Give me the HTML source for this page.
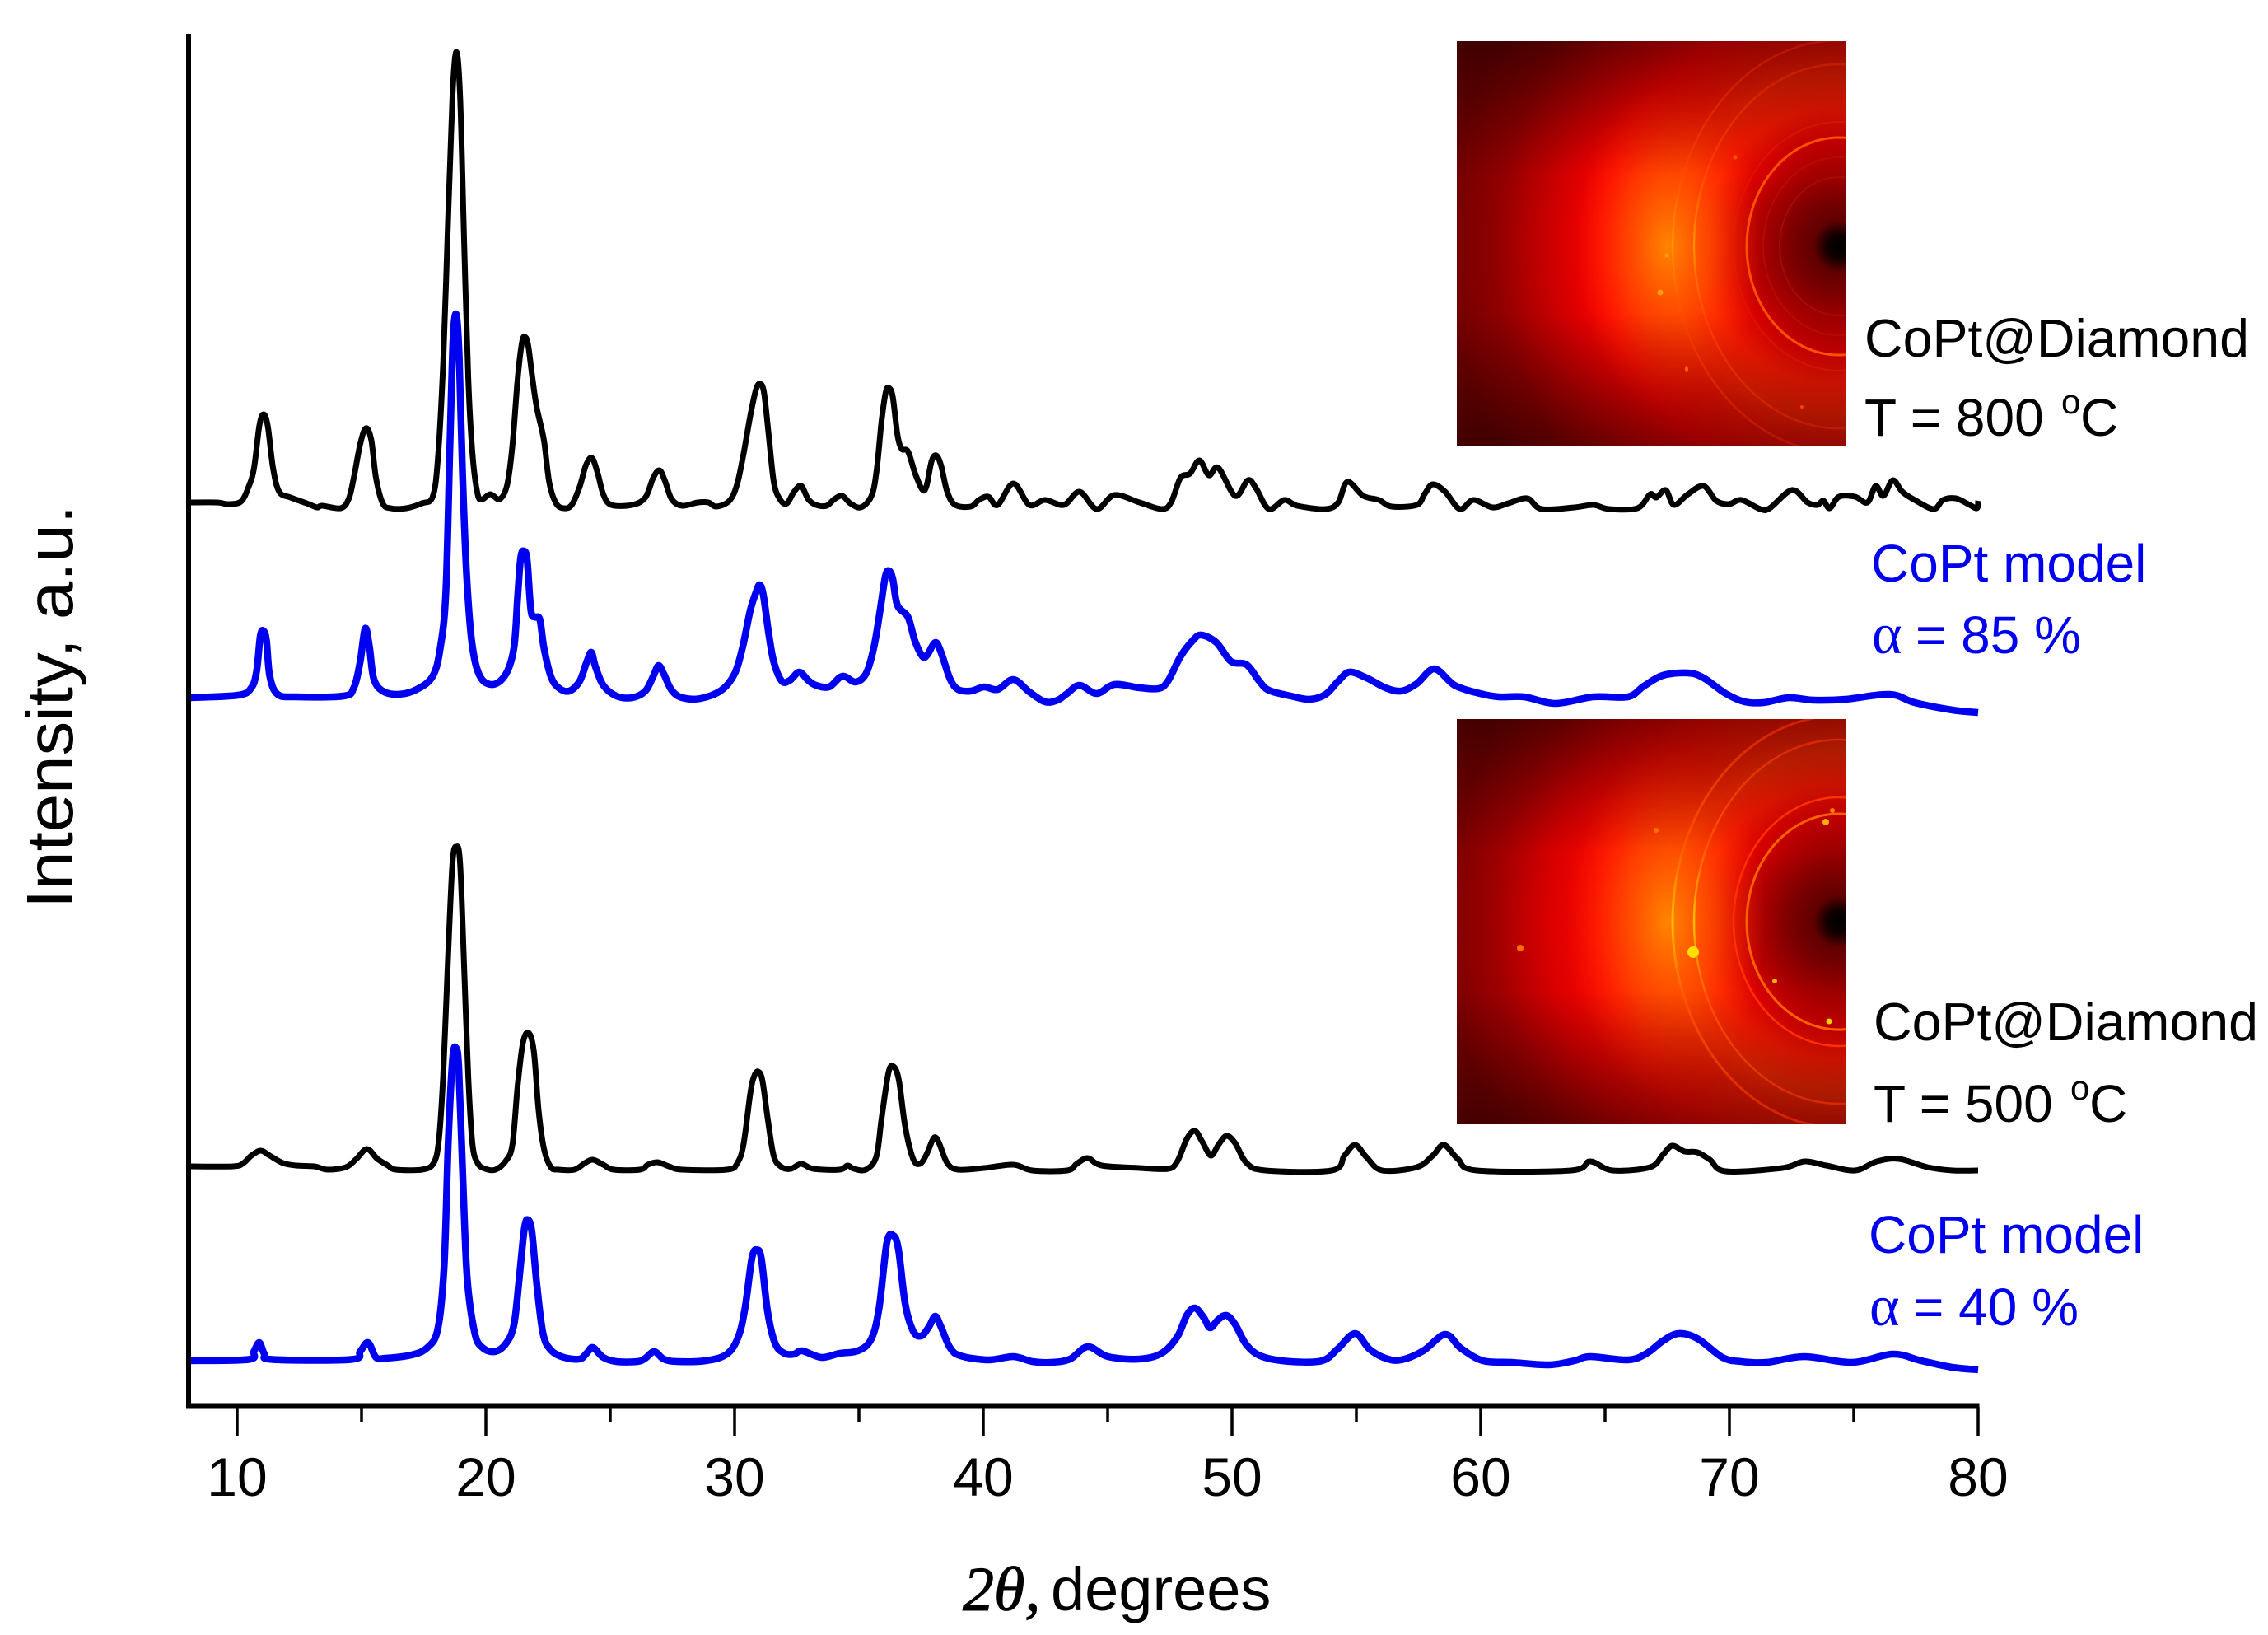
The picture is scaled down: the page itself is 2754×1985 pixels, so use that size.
<!DOCTYPE html>
<html lang="en">
<head>
<meta charset="utf-8">
<title>CoPt diffraction patterns</title>
<style>
html,body{margin:0;padding:0;background:#fff;}
svg{display:block;}
text{font-family:"Liberation Sans",sans-serif;}
.ser{font-family:"Liberation Serif",serif;}
</style>
</head>
<body>
<svg id="chart" xmlns="http://www.w3.org/2000/svg" width="2754" height="1985" viewBox="0 0 2754 1985">
<defs>
<radialGradient id="g1" gradientUnits="userSpaceOnUse" cx="2233" cy="299" r="480">
<stop offset="0" stop-color="#000"/><stop offset=".03" stop-color="#100000"/><stop offset=".065" stop-color="#600000"/><stop offset=".13" stop-color="#800000"/><stop offset=".21" stop-color="#b00000"/><stop offset=".27" stop-color="#d80000"/><stop offset=".35" stop-color="#ff1800"/><stop offset=".43" stop-color="#ff2000"/><stop offset=".5" stop-color="#ff1000"/><stop offset=".6" stop-color="#ff0000"/><stop offset=".74" stop-color="#c80000"/><stop offset=".87" stop-color="#900000"/><stop offset="1" stop-color="#700000"/>
</radialGradient>
<radialGradient id="g2" gradientUnits="userSpaceOnUse" cx="2233" cy="1119" r="480">
<stop offset="0" stop-color="#000"/><stop offset=".03" stop-color="#100000"/><stop offset=".065" stop-color="#600000"/><stop offset=".13" stop-color="#800000"/><stop offset=".21" stop-color="#b00000"/><stop offset=".27" stop-color="#d80000"/><stop offset=".35" stop-color="#ff1800"/><stop offset=".43" stop-color="#ff2800"/><stop offset=".5" stop-color="#ff1800"/><stop offset=".6" stop-color="#ff0800"/><stop offset=".74" stop-color="#d80000"/><stop offset=".87" stop-color="#a00000"/><stop offset="1" stop-color="#780000"/>
</radialGradient>
<radialGradient id="glow">
<stop offset="0" stop-color="#ff8a00" stop-opacity=".95"/><stop offset=".5" stop-color="#ff6000" stop-opacity=".55"/><stop offset="1" stop-color="#ff3000" stop-opacity="0"/>
</radialGradient>
<linearGradient id="shade" x1="0" y1="0" x2="0" y2="1">
<stop offset="0" stop-color="#000" stop-opacity=".42"/><stop offset=".33" stop-color="#000" stop-opacity="0"/><stop offset=".67" stop-color="#000" stop-opacity="0"/><stop offset="1" stop-color="#000" stop-opacity=".42"/>
</linearGradient>
<linearGradient id="ringA" gradientUnits="userSpaceOnUse" x1="0" y1="50" x2="0" y2="542">
<stop offset="0" stop-color="#c01800"/><stop offset=".3" stop-color="#ff4000"/><stop offset=".5" stop-color="#ffa000"/><stop offset=".7" stop-color="#ff4000"/><stop offset="1" stop-color="#c01800"/>
</linearGradient>
<linearGradient id="ringB" gradientUnits="userSpaceOnUse" x1="0" y1="873" x2="0" y2="1365">
<stop offset="0" stop-color="#d02000"/><stop offset=".3" stop-color="#ff5000"/><stop offset=".5" stop-color="#ffc000"/><stop offset=".7" stop-color="#ff5000"/><stop offset="1" stop-color="#d02000"/>
</linearGradient>
<clipPath id="c1"><rect x="1769" y="50" width="473" height="492"/></clipPath>
<clipPath id="c2"><rect x="1769" y="873" width="473" height="492"/></clipPath>
</defs>

<rect x="0" y="0" width="2754" height="1985" fill="#fff"/>

<g id="inset-800" clip-path="url(#c1)">
<rect x="1769" y="50" width="473" height="492" fill="url(#g1)"/>
<ellipse cx="2025" cy="299" rx="115" ry="200" fill="url(#glow)"/>
<rect x="1769" y="50" width="473" height="492" fill="url(#shade)"/>
<g fill="none">
<ellipse cx="2233" cy="299" rx="112" ry="132" stroke="#ff5000" stroke-width="3"/>
<ellipse cx="2233" cy="299" rx="72" ry="84" stroke="#b01000" stroke-width="2" opacity=".7"/>
<ellipse cx="2233" cy="299" rx="92" ry="108" stroke="#b81000" stroke-width="2" opacity=".7"/>
<ellipse cx="2233" cy="299" rx="128" ry="151" stroke="#e02000" stroke-width="2" opacity=".5"/>
<ellipse cx="2233" cy="299" rx="176" ry="221" stroke="url(#ringA)" stroke-width="2.5" opacity=".75"/>
<ellipse cx="2233" cy="299" rx="202" ry="250" stroke="url(#ringA)" stroke-width="2.5" opacity=".7"/>
</g>
<g fill="#ffa000">
<circle cx="2024" cy="310" r="2.5"/><circle cx="2016" cy="355" r="3.5"/><ellipse cx="2048" cy="448" rx="2" ry="4" fill="#ff6000"/><circle cx="2107" cy="191" r="2.5" fill="#ff5000"/><circle cx="2188" cy="494" r="2" fill="#ff4000"/>
</g>
</g>

<g id="inset-500" clip-path="url(#c2)">
<rect x="1769" y="873" width="473" height="492" fill="url(#g2)"/>
<ellipse cx="2025" cy="1119" rx="120" ry="215" fill="url(#glow)"/>
<rect x="1769" y="873" width="473" height="492" fill="url(#shade)"/>
<g fill="none">
<ellipse cx="2233" cy="1119" rx="112" ry="131" stroke="#ff6000" stroke-width="3"/>
<ellipse cx="2233" cy="1119" rx="128" ry="151" stroke="#ff3000" stroke-width="2.5"/>
<ellipse cx="2233" cy="1119" rx="176" ry="221" stroke="url(#ringB)" stroke-width="2.5"/>
<ellipse cx="2233" cy="1119" rx="202" ry="250" stroke="url(#ringB)" stroke-width="3"/>
</g>
<g>
<circle cx="2056" cy="1156" r="7" fill="#ffe000"/><circle cx="1846" cy="1151" r="4" fill="#ff7000"/><circle cx="2011" cy="1008" r="3" fill="#ff7000"/><circle cx="2217" cy="998" r="4" fill="#ffb000"/><circle cx="2225" cy="984" r="3" fill="#ff8000"/><circle cx="2155" cy="1191" r="3" fill="#ffb000"/><circle cx="2221" cy="1240" r="3.5" fill="#ffd000"/>
</g>
</g>

<g id="series"></g>

<rect x="226" y="41" width="6" height="1669" fill="#000"/>
<rect x="226" y="1703.5" width="2177.5" height="7" fill="#000"/>
<g id="ticks"></g>
<g id="tick-labels" font-size="66" text-anchor="middle" fill="#000"></g>

<text class="ser" x="1169" y="1955" font-size="76" font-style="italic" fill="#000" stroke="#000" stroke-width="1">2θ,</text>
<text x="1276" y="1955" font-size="74" fill="#000">degrees</text>
<text x="0" y="0" font-size="80" textLength="490" lengthAdjust="spacingAndGlyphs" fill="#000" transform="translate(88,1103) rotate(-90)">Intensity, a.u.</text>

<text x="2264" y="433" font-size="64.5" fill="#000">CoPt@Diamond</text>
<text x="2264" y="529" font-size="64" fill="#000">T = 800</text>
<text x="2503" y="502" font-size="42" fill="#000">o</text>
<text x="2526" y="529" font-size="64" fill="#000">C</text>
<text x="2272" y="706" font-size="64" fill="#0000f0">CoPt model</text>
<text class="ser" x="2273" y="793" font-size="70" fill="#0000f0">α</text>
<text x="2326" y="793" font-size="64" fill="#0000f0">= 85 %</text>

<text x="2275" y="1263" font-size="64.5" fill="#000">CoPt@Diamond</text>
<text x="2275" y="1362" font-size="64" fill="#000">T = 500</text>
<text x="2514" y="1335" font-size="42" fill="#000">o</text>
<text x="2537" y="1362" font-size="64" fill="#000">C</text>
<text x="2269" y="1521" font-size="64" fill="#0000f0">CoPt model</text>
<text class="ser" x="2270" y="1609" font-size="70" fill="#0000f0">α</text>
<text x="2323" y="1609" font-size="64" fill="#0000f0">= 40 %</text>
</svg>

<script>
// Axis ticks
const majorTicks = [10, 20, 30, 40, 50, 60, 70, 80];
const minorTicks = [15, 25, 35, 45, 55, 65, 75];
const tickLabels = ["10", "20", "30", "40", "50", "60", "70", "80"];

// [2-theta in degrees, intensity in a.u.]
const exp800 = [[8.04,109.7],[9.2,109.7],[9.62,109.5],[10.15,109.8],[10.46,111.6],[10.68,113.9],[10.89,119],[11.06,120.4],[11.23,119],[11.44,113.9],[11.69,111],[12.15,110.3],[12.79,109.6],[13.21,109.1],[13.42,109.3],[14.16,109],[14.48,110.1],[14.69,112.7],[14.94,116.7],[15.17,118.7],[15.39,117.3],[15.58,112.7],[15.85,109.6],[16.17,109],[16.8,109],[17.43,109.6],[17.86,110.4],[18.07,115],[18.28,126.5],[18.49,144.9],[18.66,159.2],[18.81,164.4],[18.96,159.2],[19.12,142],[19.29,124.8],[19.46,115.6],[19.67,110.7],[19.86,110.1],[20.18,110.7],[20.56,110.1],[20.86,111.9],[21.07,116.7],[21.28,124.8],[21.45,129.1],[21.57,129.8],[21.7,128.8],[21.87,124.8],[22.04,121.3],[22.33,117.3],[22.55,112.1],[22.82,109.6],[23.14,109],[23.45,109.4],[23.77,111.6],[24.02,114.2],[24.26,115.1],[24.49,113.3],[24.72,110.7],[25.04,109.4],[25.88,109.4],[26.41,110.3],[26.73,112.7],[26.98,113.6],[27.19,112.4],[27.47,110.1],[27.89,109.3],[28.52,109.7],[28.95,109.7],[29.26,109.2],[29.79,109.9],[30.1,111.9],[30.36,115.6],[30.63,120.2],[30.85,123.3],[31.01,124.1],[31.18,123.1],[31.37,117.9],[31.58,112.1],[31.84,110],[32.11,109.6],[32.39,111],[32.68,111.7],[32.96,110.1],[33.27,109.4],[33.7,109.3],[34.01,110.1],[34.33,110.5],[34.65,109.6],[35.07,109.1],[35.49,110.4],[35.7,113.3],[35.91,119.6],[36.08,123.1],[36.21,123.6],[36.36,122.5],[36.55,117.9],[36.72,116.2],[36.97,115.9],[37.25,113.3],[37.54,111.3],[37.71,111.6],[37.92,114.7],[38.11,115.4],[38.3,114.2],[38.55,111],[38.87,109.4],[39.5,109.2],[39.82,110],[40.2,110.4],[40.58,109.4],[41.21,112],[41.85,109.4],[42.48,110],[43.24,109.4],[43.87,111],[44.56,108.9],[45.27,110.6],[46.28,109.7],[47.17,108.9],[47.55,109.7],[47.93,112.7],[48.31,113.2],[48.69,114.8],[49.07,113],[49.45,113.9],[50.13,110.5],[50.64,112.4],[50.97,111.4],[51.48,108.9],[52.11,110],[52.62,109.3],[53.76,108.9],[54.27,109.7],[54.64,112.2],[55.28,110.5],[55.91,110],[56.42,109.2],[57.43,109.4],[57.74,110.7],[58.07,111.9],[58.57,111],[59.16,108.9],[59.71,110],[60.47,109.1],[61.11,109.6],[61.87,110.2],[62.45,108.9],[63.77,109.1],[64.53,109.4],[65.16,108.9],[66.3,109],[66.81,110.7],[67.06,110.3],[67.44,111.2],[67.77,109.4],[68.33,110.7],[68.96,111.7],[69.47,109.9],[69.98,109.5],[70.48,110],[71.24,108.9],[71.62,109],[72.51,111.2],[73.14,109.7],[73.53,109.4],[73.78,109.9],[74.03,109],[74.41,110.4],[75.05,110.4],[75.55,109.7],[75.88,111.7],[76.19,110.5],[76.57,112.4],[76.95,111],[77.45,110],[78.21,108.9],[78.59,110],[79.1,110.2],[79.6,109.5],[79.95,109],[80,109.9]];

const model85 = [[8.04,86],[10.04,86.3],[10.57,87.2],[10.78,89.2],[10.93,93.5],[11.06,94.1],[11.18,92.9],[11.31,88.6],[11.63,86.4],[12.37,86.1],[14.27,86.2],[14.69,87.2],[14.94,90.3],[15.15,94.4],[15.32,92.1],[15.49,88.3],[15.85,86.8],[16.48,86.4],[17.22,87],[17.86,88.6],[18.17,92.1],[18.39,98.9],[18.55,116.2],[18.68,129.4],[18.81,132.5],[18.93,127.1],[19.06,113.3],[19.23,100.7],[19.44,92.6],[19.76,88.6],[20.29,87.6],[20.81,88.9],[21.13,92.1],[21.28,98.4],[21.4,103],[21.53,103.8],[21.66,102.7],[21.81,96.6],[21.97,95.8],[22.17,95.5],[22.33,92.1],[22.61,88.6],[22.92,87.2],[23.35,86.8],[23.77,88],[24.05,90.3],[24.24,91.5],[24.4,89.8],[24.72,87.5],[25.25,86.2],[25.88,86],[26.41,86.8],[26.73,88.6],[26.94,89.9],[27.15,88.9],[27.47,86.9],[27.89,86],[28.63,85.9],[29.47,86.9],[30,88.9],[30.32,92.1],[30.63,96.6],[30.85,98.7],[31.01,99.7],[31.16,98.4],[31.37,93.8],[31.58,90.3],[31.9,88],[32.22,88.1],[32.6,89.1],[32.96,88.1],[33.27,87.5],[33.8,87.3],[34.33,88.6],[34.86,87.9],[35.28,88.9],[35.6,92.1],[35.85,96.6],[36.06,100.7],[36.21,101.4],[36.36,100.4],[36.55,97.2],[36.97,95.8],[37.25,92.9],[37.56,91],[37.75,91.2],[38.07,92.7],[38.3,91.5],[38.66,88.3],[38.98,87],[39.5,86.8],[40.03,87.3],[40.58,87],[41.21,88.2],[41.85,86.7],[42.48,85.5],[42.99,85.7],[43.37,86.5],[43.87,87.5],[44.56,86.5],[45.27,87.6],[46.28,87.2],[47.04,87.1],[47.42,88],[47.93,91],[48.44,93],[48.77,93.6],[49.37,92.7],[49.96,90.4],[50.59,90],[51.1,88],[51.48,86.9],[52.36,86.2],[53.12,85.8],[53.76,86.4],[54.27,88],[54.72,89.1],[55.41,88.4],[56.17,87.2],[56.8,86.8],[57.43,87.7],[58.14,89.5],[58.95,87.5],[59.97,86.5],[60.73,86.1],[61.74,86.1],[63.01,85.3],[64.53,86.1],[65.92,86.1],[66.56,87.4],[67.32,88.7],[68.33,89],[68.96,88.4],[69.85,86.5],[70.61,85.5],[71.37,85.4],[72.38,86],[73.4,85.7],[74.66,85.8],[76.44,86.4],[77.45,85.4],[78.97,84.5],[80,84.2]];

const exp500 = [[8.04,29.1],[9.83,29.1],[10.25,29.5],[10.57,30.4],[10.95,31],[11.31,30.4],[11.84,29.5],[12.37,29.2],[13.1,29.1],[13.63,28.7],[14.37,29],[14.79,30],[15.22,31.2],[15.64,30],[16.06,29.2],[16.38,28.7],[17.43,28.7],[17.9,29.5],[18.11,32.3],[18.28,40],[18.49,55.3],[18.66,66],[18.81,67.9],[18.96,66],[19.12,53.8],[19.29,40],[19.46,31.8],[19.67,29.5],[19.97,28.8],[20.39,28.7],[20.81,29.8],[21.07,31.8],[21.28,39],[21.49,44.1],[21.72,45.3],[21.93,43],[22.12,35.9],[22.33,31.3],[22.61,29],[22.92,28.7],[23.56,28.7],[23.98,29.5],[24.3,29.9],[24.72,29.3],[25.14,28.7],[26.2,28.7],[26.51,29.3],[26.9,29.6],[27.36,29.1],[27.89,28.7],[29.69,28.7],[30.11,29.5],[30.36,31.8],[30.63,37.9],[30.78,40],[30.95,40.6],[31.12,39.5],[31.33,34.9],[31.58,30.3],[31.9,29],[32.26,28.8],[32.68,29.4],[33.17,28.8],[34.23,28.7],[34.54,29.2],[34.8,28.8],[35.28,28.7],[35.7,30.3],[35.91,34.9],[36.19,40.5],[36.4,41.2],[36.61,39.5],[36.86,33.9],[37.18,30],[37.45,29.4],[37.71,30.5],[37.96,32.3],[38.09,32.6],[38.24,31.8],[38.55,29.5],[38.98,28.7],[40.03,28.9],[41.21,29.3],[41.97,28.6],[43.37,28.6],[43.75,29.4],[44.2,30.1],[44.76,29.2],[46.28,28.9],[47.42,28.8],[47.8,29.7],[48.18,32.4],[48.51,33.4],[48.82,32],[49.15,30.4],[49.45,31.7],[49.78,32.8],[50.13,31.9],[50.59,29.5],[51.35,28.6],[54.01,28.6],[54.52,30.4],[54.95,31.7],[55.41,30.2],[56.04,28.6],[57.43,29],[58.07,30.4],[58.52,31.7],[59.08,30],[59.84,28.6],[63.64,28.6],[64.4,29.7],[65.29,28.6],[66.81,29],[67.32,30.5],[67.7,31.6],[68.2,30.9],[68.71,30.8],[69.22,29.9],[69.85,28.5],[72.13,28.9],[73.02,29.7],[73.9,29.2],[75.05,28.6],[75.93,29.7],[76.82,30],[77.96,29],[78.97,28.6],[80,28.6]];

const model40 = [[8.04,5.5],[10.46,5.65],[10.67,6.6],[10.89,7.7],[11.1,6.3],[11.42,5.65],[14.58,5.65],[14.94,6.6],[15.26,7.7],[15.58,5.9],[15.96,5.8],[17.01,6.2],[17.65,7.1],[18.07,9.4],[18.32,17],[18.49,32.3],[18.66,42],[18.79,43.5],[18.91,41],[19.08,27.2],[19.25,15.5],[19.55,8.9],[19.86,7.1],[20.35,6.6],[20.81,7.6],[21.13,9.9],[21.34,15.5],[21.55,21.6],[21.7,22.6],[21.85,21.1],[22.04,15],[22.29,8.9],[22.61,6.8],[23.14,5.9],[23.77,5.7],[24.05,6.4],[24.3,7.1],[24.72,5.9],[25.25,5.4],[26.09,5.4],[26.41,5.8],[26.77,6.6],[27.15,5.7],[27.68,5.4],[28.84,5.5],[29.69,6.3],[30.15,8.4],[30.42,11.9],[30.7,18],[30.91,18.96],[31.08,17.8],[31.33,11.4],[31.63,7.6],[32,6.4],[32.39,6.3],[32.72,6.7],[33.49,5.9],[34.23,6.4],[34.96,6.7],[35.49,8.1],[35.81,11.9],[36.12,19.8],[36.38,20.7],[36.59,19],[36.86,12.4],[37.18,9.1],[37.5,8.5],[37.81,9.6],[38.07,10.9],[38.3,9.6],[38.66,7.1],[39.08,6.1],[40.2,5.6],[41.21,6],[41.97,5.4],[42.73,5.3],[43.49,5.7],[44.2,7.2],[45.01,6],[46.28,5.7],[47.17,6.4],[47.8,8.4],[48.18,11],[48.51,11.9],[48.87,10.7],[49.12,9.5],[49.45,10.5],[49.78,11],[50.13,9.9],[50.59,7.4],[51.22,6],[52.36,5.4],[53.63,5.5],[54.27,7],[54.95,8.8],[55.53,6.9],[56.17,5.8],[56.8,5.6],[57.69,6.7],[58.57,8.7],[59.21,7],[60.09,5.5],[61.23,5.3],[62.75,5],[63.77,5.5],[64.4,6],[65.92,5.6],[66.68,6.4],[67.32,7.9],[67.95,8.8],[68.71,8.2],[69.72,5.9],[70.48,5.4],[71.5,5.3],[73.02,6],[74.92,5.3],[76.57,6.3],[77.71,5.5],[78.97,4.7],[80,4.4]];

const NS = 'http://www.w3.org/2000/svg';
function xScale(v) { return 288 + (v - 10) * 30.2; }
function yScale(v) { return 1707 - v * 10; }

function linePath(points) {
  const p = points.map(function (d) { return [xScale(d[0]), yScale(d[1])]; });
  let s = 'M' + p[0][0].toFixed(1) + ' ' + p[0][1].toFixed(1);
  for (let i = 0; i < p.length - 1; i++) {
    const a = p[Math.max(i - 1, 0)], b = p[i], c = p[i + 1], d = p[Math.min(i + 2, p.length - 1)];
    const c1x = b[0] + (c[0] - a[0]) / 6, c1y = b[1] + (c[1] - a[1]) / 6;
    const c2x = c[0] - (d[0] - b[0]) / 6, c2y = c[1] - (d[1] - b[1]) / 6;
    s += 'C' + c1x.toFixed(1) + ' ' + c1y.toFixed(1) + ' ' + c2x.toFixed(1) + ' ' + c2y.toFixed(1) + ' ' + c[0].toFixed(1) + ' ' + c[1].toFixed(1);
  }
  return s;
}

const seriesGroup = document.getElementById('series');

const pathExp800 = document.createElementNS(NS, 'path');


pathExp800.setAttribute('d', linePath(exp800));
pathExp800.setAttribute('fill', 'none');
pathExp800.setAttribute('stroke', '#000');
pathExp800.setAttribute('stroke-width', '7');
pathExp800.setAttribute('stroke-linejoin', 'round');
seriesGroup.appendChild(pathExp800);

const pathExp500 = document.createElementNS(NS, 'path');


pathExp500.setAttribute('d', linePath(exp500));
pathExp500.setAttribute('fill', 'none');
pathExp500.setAttribute('stroke', '#000');
pathExp500.setAttribute('stroke-width', '7');
pathExp500.setAttribute('stroke-linejoin', 'round');
seriesGroup.appendChild(pathExp500);

const pathModel85 = document.createElementNS(NS, 'path');


pathModel85.setAttribute('d', linePath(model85));
pathModel85.setAttribute('fill', 'none');
pathModel85.setAttribute('stroke', '#0000f0');
pathModel85.setAttribute('stroke-width', '8.5');
pathModel85.setAttribute('stroke-linejoin', 'round');
seriesGroup.appendChild(pathModel85);

const pathModel40 = document.createElementNS(NS, 'path');


pathModel40.setAttribute('d', linePath(model40));
pathModel40.setAttribute('fill', 'none');
pathModel40.setAttribute('stroke', '#0000f0');
pathModel40.setAttribute('stroke-width', '8.5');
pathModel40.setAttribute('stroke-linejoin', 'round');
seriesGroup.appendChild(pathModel40);

const tickGroup = document.getElementById('ticks');
const labelGroup = document.getElementById('tick-labels');

majorTicks.forEach(function (v, i) {
  const t = document.createElementNS(NS, 'line');
  
  
  t.setAttribute('x1', xScale(v));
  t.setAttribute('x2', xScale(v));
  t.setAttribute('y1', 1708);
  t.setAttribute('y2', 1743);
  t.setAttribute('stroke', '#000');
  t.setAttribute('stroke-width', '3.5');
  tickGroup.appendChild(t);

  const l = document.createElementNS(NS, 'text');
  
  
  l.setAttribute('x', xScale(v));
  l.setAttribute('y', 1816);
  l.textContent = tickLabels[i];
  labelGroup.appendChild(l);
});

minorTicks.forEach(function (v) {
  const t = document.createElementNS(NS, 'line');
  
  
  t.setAttribute('x1', xScale(v));
  t.setAttribute('x2', xScale(v));
  t.setAttribute('y1', 1708);
  t.setAttribute('y2', 1727);
  t.setAttribute('stroke', '#000');
  t.setAttribute('stroke-width', '3.5');
  tickGroup.appendChild(t);
});
</script>
</body>
</html>
